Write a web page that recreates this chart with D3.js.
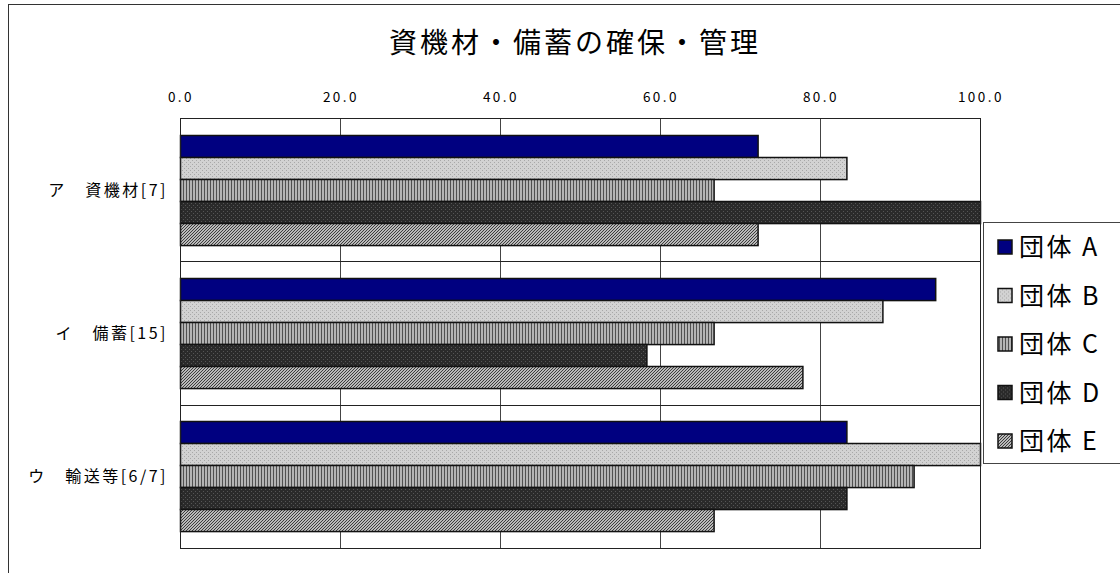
<!DOCTYPE html>
<html>
<head>
<meta charset="utf-8">
<script src="https://cdn.jsdelivr.net/npm/d3@7"></script>
<style>
body { margin:0; background:#fff; }
text { font-family:"Noto Sans CJK JP", "Noto Sans", sans-serif; }
</style>
</head>
<body>
<div id="chart"></div>
<script>
// data
var title = "資機材・備蓄の確保・管理";
var categories = ["ア　資機材[7]", "イ　備蓄[15]", "ウ　輸送等[6/7]"];
var seriesNames = ["団体 A", "団体 B", "団体 C", "団体 D", "団体 E"];
var valuesA = [72.2, 94.4, 83.3];
var valuesB = [83.3, 87.8, 100.0];
var valuesC = [66.7, 66.7, 91.7];
var valuesD = [100.0, 58.3, 83.3];
var valuesE = [72.2, 77.8, 66.7];
var tickValues = [0, 20, 40, 60, 80, 100];

var allValues = [valuesA, valuesB, valuesC, valuesD, valuesE];
var W = 1120, H = 573;
var plot = {left:180, right:980, top:118, bottom:548};

var svg = d3.select("#chart").append("svg").attr("width", W).attr("height", H);

// fill patterns, one per series
var defs = svg.append("defs");
var pB = defs.append("pattern").attr("id","patB").attr("patternUnits","userSpaceOnUse").attr("width",4).attr("height",4);
pB.append("rect").attr("width",4).attr("height",4).attr("fill","#d2d2d2");
pB.append("rect").attr("x",0).attr("y",0).attr("width",1).attr("height",1).attr("fill","#a8a8a8");
pB.append("rect").attr("x",2).attr("y",2).attr("width",1).attr("height",1).attr("fill","#a8a8a8");

var pC = defs.append("pattern").attr("id","patC").attr("patternUnits","userSpaceOnUse").attr("width",3).attr("height",3);
pC.append("rect").attr("width",3).attr("height",3).attr("fill","#b4b4b4");
pC.append("rect").attr("width",1).attr("height",3).attr("fill","#505050");

var pD = defs.append("pattern").attr("id","patD").attr("patternUnits","userSpaceOnUse").attr("width",4).attr("height",4);
pD.append("rect").attr("width",4).attr("height",4).attr("fill","#2a2a2a");
pD.append("rect").attr("x",1).attr("y",1).attr("width",1).attr("height",1).attr("fill","#555");
pD.append("rect").attr("x",3).attr("y",3).attr("width",1).attr("height",1).attr("fill","#555");

var pE = defs.append("pattern").attr("id","patE").attr("patternUnits","userSpaceOnUse").attr("width",3).attr("height",3);
pE.append("rect").attr("width",3).attr("height",3).attr("fill","#f0f0f0");
pE.append("path").attr("d","M-1,1 L1,-1 M0,3 L3,0 M2,4 L4,2").attr("stroke","#333").attr("stroke-width",1.1);

var fills = ["#000080", "url(#patB)", "url(#patC)", "url(#patD)", "url(#patE)"];

// outer chart frame
svg.append("rect").attr("x",8.5).attr("y",4.5).attr("width",1200).attr("height",700)
    .attr("fill","none").attr("stroke","#333");

svg.append("text").attr("x",575).attr("y",53).attr("text-anchor","middle")
    .attr("font-size",28).attr("letter-spacing","3px").attr("fill","#000").text(title);

var x = d3.scaleLinear().domain([0,100]).range([plot.left, plot.right]);
var y = d3.scaleBand().domain(categories).range([plot.top, plot.bottom]);
var ys = d3.scaleBand().domain(seriesNames).range([16.5, y.bandwidth()-16.5]);

// vertical gridlines
svg.append("g").selectAll("line").data(tickValues.slice(1,-1)).enter().append("line")
    .attr("x1",function(d){ return Math.round(x(d))+0.5;}).attr("x2",function(d){ return Math.round(x(d))+0.5;})
    .attr("y1",plot.top).attr("y2",plot.bottom).attr("stroke","#444");

// category separators
svg.append("g").selectAll("line").data(categories.slice(1)).enter().append("line")
    .attr("x1",plot.left).attr("x2",plot.right)
    .attr("y1",function(d){ return Math.round(y(d))+0.5;}).attr("y2",function(d){ return Math.round(y(d))+0.5;})
    .attr("stroke","#222");

// bars
seriesNames.forEach(function(s, si) {
    svg.append("g").selectAll("rect").data(allValues[si]).enter().append("rect")
        .attr("x",plot.left+0.5)
        .attr("y",function(d,i){ return Math.round(y(categories[i])+ys(s))+0.5;})
        .attr("width",function(d){ return x(d)-plot.left;})
        .attr("height",ys.bandwidth())
        .attr("fill",fills[si]).attr("stroke","#111").attr("stroke-width",1.5);
});

// plot border
svg.append("rect").attr("x",plot.left+0.5).attr("y",plot.top+0.5)
    .attr("width",plot.right-plot.left).attr("height",plot.bottom-plot.top)
    .attr("fill","none").attr("stroke","#222");

// top axis labels
svg.append("g").selectAll("text").data(tickValues).enter().append("text")
    .attr("x",function(d){ return x(d)+1;}).attr("y",102).attr("text-anchor","middle")
    .attr("font-size",13.5).attr("letter-spacing","2.5px").attr("fill","#000")
    .text(function(d){ return d3.format(".1f")(d);});

// category labels
svg.append("g").selectAll("text").data(categories).enter().append("text")
    .attr("x",168).attr("y",function(d){ return y(d)+y.bandwidth()/2+6;})
    .attr("text-anchor","end").attr("font-size",16).attr("letter-spacing","2.5px").attr("fill","#000")
    .text(function(d){ return d;});

// legend
var lg = svg.append("g");
lg.append("rect").attr("x",983.5).attr("y",222.5).attr("width",200).attr("height",241)
    .attr("fill","#fff").attr("stroke","#444");
var items = lg.selectAll("g").data(seriesNames).enter().append("g")
    .attr("transform",function(d,i){ return "translate(0,"+(247+i*48.5)+")";});
items.append("rect").attr("x",998).attr("y",-7).attr("width",14).attr("height",14)
    .attr("fill",function(d,i){ return fills[i];}).attr("stroke","#111").attr("stroke-width",1.5);
items.append("text").attr("x",1019).attr("y",9).attr("font-size",25).attr("letter-spacing","2.5px").attr("fill","#000")
    .text(function(d){ return d;});
</script>
</body>
</html>
